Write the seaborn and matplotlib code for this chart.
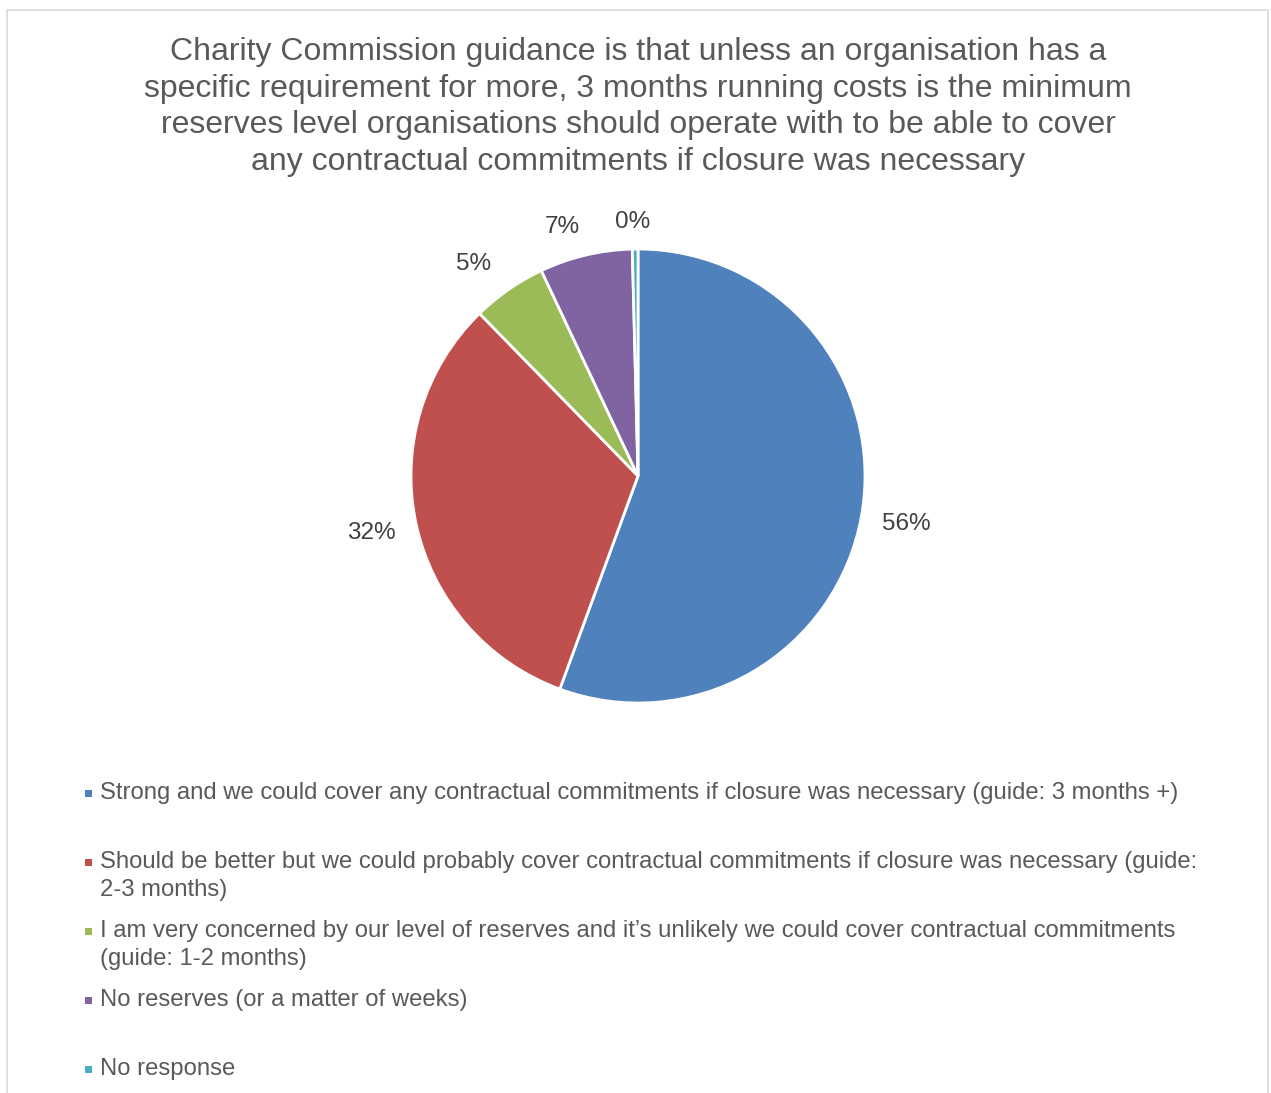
import matplotlib
matplotlib.use("Agg")
import matplotlib.pyplot as plt
import seaborn as sns
import numpy as np
from matplotlib.patches import Rectangle

sns.set_theme(style="white")
plt.rcParams['font.family'] = ['Liberation Sans', 'DejaVu Sans']

categories = [
    "Strong and we could cover any contractual commitments if closure was necessary (guide: 3 months +)",
    "Should be better but we could probably cover contractual commitments if closure was necessary (guide:\n2-3 months)",
    "I am very concerned by our level of reserves and it\u2019s unlikely we could cover contractual commitments\n(guide: 1-2 months)",
    "No reserves (or a matter of weeks)",
    "No response",
]
values = [55.6, 32.1, 5.3, 6.6, 0.4]
colors = ["#4F81BD", "#C0504D", "#9BBB59", "#8064A2", "#4BACC6"]
label_dist = [1.2, 1.2, 1.18, 1.145, 1.12]
label_turn = [0, 0, 3, 3.5, 0.5]
title = ("Charity Commission guidance is that unless an organisation has a\n"
         "specific requirement for more, 3 months running costs is the minimum\n"
         "reserves level organisations should operate with to be able to cover\n"
         "any contractual commitments if closure was necessary")

W, H = 1271, 1093
fig = plt.figure(figsize=(W / 100, H / 100), dpi=100)

# border
fig.patches.append(Rectangle((7 / W, -0.01), 1261 / W, 1 - 10 / H + 0.01,
                             transform=fig.transFigure, fill=False,
                             edgecolor="#D9D9D9", linewidth=1.2))

cx, cy, r = 638, 476, 227
ax = fig.add_axes([(cx - r) / W, (H - cy - r) / H, 2 * r / W, 2 * r / H])
wedges, texts, autotexts = ax.pie(
    values, colors=colors, startangle=90, counterclock=False,
    autopct="%.0f%%", pctdistance=1.2,
    wedgeprops=dict(edgecolor="white", linewidth=2),
    textprops=dict(color="#404040", fontsize=17.5))
for w, t, d, turn in zip(wedges, autotexts, label_dist, label_turn):
    ang = np.deg2rad((w.theta1 + w.theta2) / 2 + turn)
    t.set_position((d * np.cos(ang), d * np.sin(ang)))
    t.set_clip_on(False)
ax.set_xlim(-1, 1)
ax.set_ylim(-1, 1)
ax.set_aspect("equal")
ax.axis("off")

fig.text(638 / W, 1 - 107 / H, title, ha="center", va="center",
         fontsize=23, color="#595959", linespacing=1.28)

# legend
ytops = [793, 862, 931, 1000, 1069]
for lab, col, y in zip(categories, colors, ytops):
    fig.patches.append(Rectangle((85 / W, 1 - (y + 3.5) / H), 7 / W, 7 / H,
                                 transform=fig.transFigure, facecolor=col,
                                 edgecolor="none"))
    for i, line in enumerate(lab.split("\n")):
        fig.text(100 / W, 1 - (y + 28 * i) / H, line, ha="left",
                 va="center", fontsize=17.2, color="#595959")

fig.savefig("out.png", dpi=100)
